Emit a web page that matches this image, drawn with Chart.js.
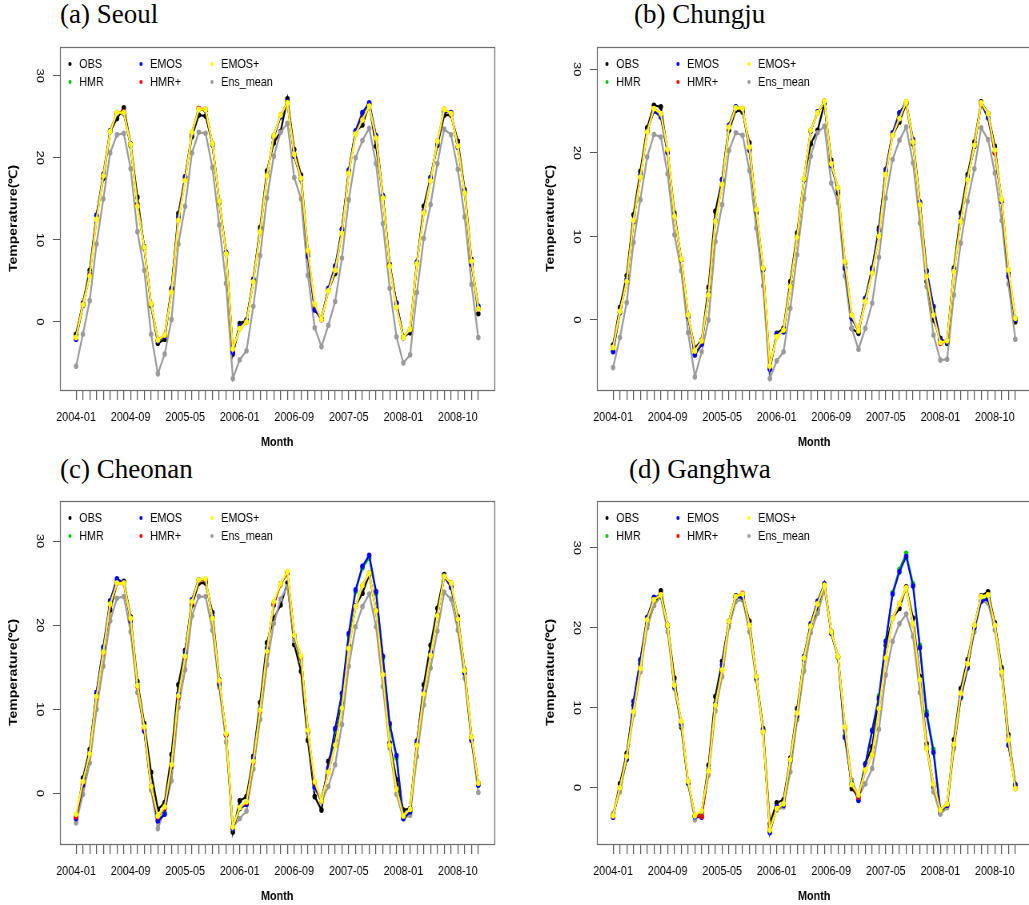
<!DOCTYPE html>
<html>
<head>
<meta charset="utf-8">
<script src="https://cdn.jsdelivr.net/npm/chart.js@4.4.1/dist/chart.umd.min.js"></script>
<style>
html,body{margin:0;padding:0;width:1029px;height:905px;overflow:hidden;background:#fff;}
.panel{position:absolute;width:644px;height:450px;transform:scale(0.8,1);transform-origin:0 0;}
.title{position:absolute;font-family:"Liberation Serif","Times New Roman",serif;font-size:27px;line-height:27px;color:#000;white-space:nowrap;}
</style>
</head>
<body>
<div id="root"></div>
<script>
// ---------------- DATA ----------------
const months = ["2004-01","2004-02","2004-03","2004-04","2004-05","2004-06","2004-07","2004-08","2004-09","2004-10","2004-11","2004-12",
"2005-01","2005-02","2005-03","2005-04","2005-05","2005-06","2005-07","2005-08","2005-09","2005-10","2005-11","2005-12",
"2006-01","2006-02","2006-03","2006-04","2006-05","2006-06","2006-07","2006-08","2006-09","2006-10","2006-11","2006-12",
"2007-01","2007-02","2007-03","2007-04","2007-05","2007-06","2007-07","2007-08","2007-09","2007-10","2007-11","2007-12",
"2008-01","2008-02","2008-03","2008-04","2008-05","2008-06","2008-07","2008-08","2008-09","2008-10","2008-11","2008-12"];
const xTickLabels = ["2004-01","2004-09","2005-05","2006-01","2006-09","2007-05","2008-01","2008-10"];
const xTickIndex = [0,8,16,24,32,40,48,56];
const yTicks = [0,10,20,30];
const seriesNames = ["OBS","HMR","EMOS","HMR+","EMOS+","Ens_mean"];
const seriesColors = ["#000000","#00C800","#0000FF","#FF0000","#FFFF00","#9A9A9A"];
// stacking: larger = drawn later (on top)
const drawRank = [0,2,3,4,5,1];
const panelTitles = ["(a) Seoul","(b) Chungju","(c) Cheonan","(d) Ganghwa"];

// (a) Seoul
const seoulOBS  = [-1.5,2.3,6.3,13.0,17.5,23.2,24.8,26.1,21.7,15.2, 9.0,2.0,-2.6,-2.1,4.0,13.2,17.7,22.6,25.2,25.1, 21.7,14.6,8.4,-3.9,-0.2,0.2,5.1,11.5,18.4,21.8, 23.2,27.2,21.0,17.9,8.6,1.5,0.3,3.9,5.9,11.3, 18.3,23.2,24.0,26.5,21.4,15.3,7.0,2.3,-1.8,-1.3, 7.2,14.1,17.6,21.5,25.2,25.2,22.0,16.1,7.6,1.0];
const seoulHMR  = [-2.0,2.1,5.9,12.9,17.9,23.3,25.4,25.5,21.5,14.4, 9.2,2.1,-2.3,-1.7,4.0,12.8,17.6,23.0,25.9,25.8, 21.6,14.6,8.5,-3.6,-0.6,0.2,5.2,11.2,17.9,22.6, 25.1,26.8,20.3,17.4,8.2,1.6,0.4,4.0,6.7,11.2, 18.4,23.2,25.4,26.6,22.6,15.3,7.0,2.2,-1.9,-1.0, 7.3,13.4,17.5,21.8,25.7,25.5,21.3,15.9,7.1,1.9];
const seoulEMOS = [-2.1,2.0,5.8,13.0,18.0,23.3,25.4,25.4,21.5,14.3, 9.2,2.1,-2.3,-1.7,4.1,12.8,17.7,23.0,26.0,25.8, 21.6,14.7,8.5,-3.7,-0.6,0.2,5.2,11.2,17.9,22.5, 25.0,26.8,20.2,17.4,8.0,1.5,0.4,4.1,6.8,11.3, 18.5,23.3,25.5,26.7,22.7,15.4,7.0,2.3,-1.9,-1.0, 7.3,13.5,17.6,21.8,25.6,25.5,21.3,15.9,7.0,1.9];
const seoulHMRp = [-1.9,2.1,5.7,12.5,17.8,23.2,25.5,25.6,21.6,14.2, 9.1,2.2,-2.2,-1.6,3.7,12.4,17.3,23.1,26.0,25.9, 21.7,14.7,8.3,-3.3,-0.8,0.0,4.9,11.0,17.8,22.7, 25.2,26.7,20.4,17.5,8.6,2.1,0.3,3.8,6.3,10.8, 18.1,22.9,24.7,26.3,22.4,15.1,6.9,1.8,-1.9,-0.9, 7.1,13.3,17.2,22.0,25.9,25.4,21.4,15.7,7.4,1.6];
const seoulEMOSp= [-1.9,2.1,5.6,12.5,17.8,23.2,25.5,25.5,21.6,14.1, 9.1,2.2,-2.2,-1.6,3.6,12.4,17.2,23.1,25.9,25.9, 21.7,14.7,8.3,-3.3,-0.8,0.0,4.9,11.0,17.8,22.7, 25.2,26.7,20.4,17.5,8.7,2.2,0.3,3.8,6.3,10.8, 18.1,22.9,24.6,26.3,22.4,15.1,6.8,1.8,-1.9,-0.9, 7.1,13.3,17.2,22.0,25.9,25.4,21.4,15.7,7.4,1.6];
const seoulEns  = [-5.4,-1.5,2.6,9.5,15.0,20.6,22.8,23.0,18.7,11.0, 6.3,-1.5,-6.3,-3.9,0.3,9.5,14.1,20.6,23.1,23.0, 18.8,11.8,4.7,-6.9,-4.6,-3.5,1.9,8.1,15.1,20.2, 23.1,24.2,17.6,15.0,5.7,-0.7,-3.0,-0.4,2.5,7.8, 14.9,20.0,22.1,23.6,19.3,12.0,4.1,-1.8,-5.0,-4.0, 3.6,10.2,14.3,19.3,23.5,22.8,18.6,12.8,4.6,-1.9];

// (b) Chungju
const chungjuOBS  = [-3.0,1.5,5.3,12.6,17.8,23.0,25.7,25.5,20.1,12.8, 7.2,0.4,-3.4,-2.4,3.9,13.0,16.8,22.7,25.1,24.9, 21.2,12.8,6.0,-5.8,-1.6,-1.0,4.6,10.4,16.8,21.1, 22.7,25.9,19.1,15.2,6.8,-1.0,-1.6,2.6,6.2,11.0, 17.9,22.1,23.7,25.9,21.1,14.0,4.6,0.0,-2.2,-2.8, 6.2,12.8,17.4,21.3,26.1,24.7,20.8,14.2,5.6,-0.2];
const chungjuHMR  = [-3.7,0.9,4.8,11.8,17.3,22.6,25.1,24.4,20.1,12.5, 7.2,0.5,-4.1,-2.8,3.2,11.9,16.7,23.3,25.5,25.2, 20.4,13.0,6.0,-5.8,-1.7,-1.4,4.1,10.0,16.8,22.6, 24.9,26.0,18.6,15.6,6.3,0.3,-1.3,2.5,5.9,10.7, 17.9,22.3,24.7,26.0,21.5,14.0,5.8,1.5,-2.5,-2.6, 6.0,12.0,17.0,20.8,25.9,24.3,20.1,14.2,5.3,0.1];
const chungjuEMOS = [-3.8,0.9,4.8,11.8,17.4,22.6,25.0,24.3,20.0,12.5, 7.2,0.4,-4.2,-2.9,3.2,11.9,16.8,23.3,25.5,25.2, 20.3,13.0,6.0,-5.9,-1.7,-1.4,4.1,10.0,16.8,22.6, 24.9,26.0,18.5,15.6,6.2,0.2,-1.3,2.6,6.0,10.8, 18.0,22.4,24.8,26.0,21.6,14.1,5.9,1.6,-2.4,-2.6, 6.0,12.0,17.0,20.8,25.9,24.2,20.0,14.2,5.2,0.1];
const chungjuHMRp = [-3.3,1.0,4.6,11.9,17.1,22.5,25.3,24.7,20.3,12.4, 7.3,0.6,-3.7,-2.5,3.0,11.8,16.2,23.1,25.4,25.3, 20.6,13.2,6.2,-5.5,-2.0,-1.2,4.0,9.9,16.9,22.7, 24.8,26.2,18.7,15.8,7.0,0.6,-1.3,2.2,5.6,10.0, 17.4,22.1,24.1,26.1,21.3,13.8,5.2,0.6,-2.8,-2.5, 5.8,11.8,16.8,20.9,26.0,24.7,20.0,14.4,6.0,0.2];
const chungjuEMOSp= [-3.3,1.0,4.6,11.9,17.1,22.5,25.3,24.7,20.4,12.4, 7.3,0.6,-3.7,-2.5,3.0,11.8,16.2,23.1,25.4,25.3, 20.7,13.2,6.2,-5.5,-2.0,-1.2,4.0,9.9,16.9,22.7, 24.8,26.2,18.7,15.8,7.0,0.6,-1.3,2.2,5.6,10.0, 17.4,22.1,24.1,26.1,21.3,13.8,5.2,0.6,-2.7,-2.5, 5.8,11.8,16.8,20.9,26.0,24.7,20.3,14.4,6.0,0.2];
const chungjuEns  = [-5.7,-2.1,2.1,9.3,14.4,19.5,22.2,21.9,17.5,10.2, 5.9,-1.5,-6.8,-3.8,0.0,9.4,13.8,20.3,22.4,22.1, 17.9,11.0,4.1,-7.0,-4.9,-3.8,1.4,7.8,14.5,19.6, 22.4,23.2,16.4,14.0,5.3,-1.0,-3.5,-1.0,2.0,7.5, 14.6,19.2,21.5,23.1,18.8,11.6,4.0,-1.8,-4.8,-4.7, 3.0,9.2,14.2,18.1,23.0,21.6,17.6,11.9,4.3,-2.3];

// (c) Cheonan
const cheonanOBS  = [-3.0,1.8,5.2,11.9,17.0,21.8,25.0,25.2,21.0,13.3, 8.3,2.5,-1.9,-1.1,4.6,12.9,17.0,22.4,25.0,25.0, 21.5,13.5,6.9,-4.6,-0.9,-0.4,4.4,10.8,17.9,20.8, 22.4,25.0,17.7,14.5,6.3,-0.4,-2.0,3.8,6.3,10.7, 17.6,22.3,23.8,26.0,21.8,14.5,6.0,1.6,-2.0,-1.8, 5.9,12.9,17.6,22.0,26.0,24.6,21.0,14.7,6.7,1.2];
const cheonanHMR  = [-2.9,1.0,4.8,11.9,17.3,22.8,25.4,25.0,20.6,12.8, 7.5,0.8,-3.2,-2.4,3.2,11.8,16.7,23.0,25.4,25.3, 21.0,13.0,7.0,-4.2,-1.8,-1.3,4.1,10.0,17.1,22.4, 24.9,26.2,18.7,16.2,7.4,0.8,-0.8,2.9,7.5,11.6, 18.8,24.0,26.8,28.0,23.8,16.1,8.0,4.2,-3.0,-2.2, 6.1,12.1,16.8,21.2,25.8,24.6,20.6,14.3,6.4,1.0];
const cheonanEMOS = [-3.0,1.0,4.8,12.0,17.4,22.9,25.5,25.0,20.5,12.8, 7.4,0.8,-3.3,-2.5,3.2,11.8,16.8,23.0,25.4,25.3, 21.0,13.0,7.0,-4.2,-1.8,-1.3,4.2,10.0,17.2,22.4, 24.9,26.2,18.7,16.2,7.4,0.7,-0.8,3.0,7.7,11.9, 19.0,24.2,27.0,28.3,24.0,16.3,8.3,4.5,-3.0,-2.2, 6.2,12.2,16.8,21.2,25.8,24.5,20.6,14.3,6.3,1.0];
const cheonanHMRp = [-2.8,1.3,4.7,11.4,16.7,22.4,25.0,25.0,20.7,12.7, 7.8,0.8,-2.8,-1.7,3.3,11.4,16.2,22.7,25.3,25.4, 20.8,13.3,7.0,-4.0,-1.7,-1.1,3.7,9.8,16.8,22.6, 24.8,26.3,18.8,16.2,7.5,1.3,-0.9,2.5,5.7,10.1, 17.2,22.2,24.7,26.2,21.7,14.1,5.7,0.6,-2.7,-1.9, 5.7,11.8,16.4,21.1,25.8,25.0,20.7,14.6,6.7,1.2];
const cheonanEMOSp= [-2.5,1.4,4.7,11.5,16.8,22.5,25.0,25.0,20.8,12.8, 7.9,0.8,-2.7,-1.6,3.4,11.6,16.3,22.8,25.4,25.5, 20.8,13.4,7.1,-4.0,-1.7,-1.0,3.8,9.9,16.9,22.8, 24.9,26.4,18.8,16.3,7.5,1.4,-0.9,2.5,5.7,10.1, 17.2,22.2,24.7,26.2,21.7,14.1,5.7,0.5,-2.7,-1.9, 5.7,11.8,16.4,21.1,25.8,25.0,20.7,14.6,6.7,1.2];
const cheonanEns  = [-3.5,-0.1,3.6,10.0,15.1,20.5,23.2,23.4,19.2,12.0, 7.7,0.4,-4.2,-1.9,1.5,10.2,14.7,21.1,23.4,23.4, 19.4,12.6,6.1,-4.0,-3.0,-2.1,2.9,8.8,15.3,20.2, 23.1,24.6,18.2,15.7,7.1,0.6,-1.0,0.8,3.4,8.2, 15.1,19.8,22.2,23.7,19.8,12.7,5.4,-0.1,-3.0,-2.6, 4.4,10.5,14.9,19.3,23.9,23.1,19.4,13.7,6.3,0.1];

// (d) Ganghwa
const ganghwaOBS  = [-3.5,0.5,4.3,10.3,15.5,20.4,22.8,24.6,20.3,13.7, 7.6,0.6,-3.5,-3.1,2.8,11.4,15.8,20.8,24.0,24.0, 20.8,13.9,7.4,-4.5,-1.9,-1.5,3.7,9.9,16.0,20.4, 22.2,25.5,19.5,16.4,7.4,-0.1,-1.1,3.0,5.1,11.0, 17.8,21.2,22.4,25.1,21.2,13.9,5.5,0.1,-3.2,-2.2, 6.0,12.4,16.0,20.2,24.0,24.5,20.6,15.0,6.6,0.3];
const ganghwaHMR  = [-3.6,0.0,3.6,10.7,15.9,21.2,23.7,24.0,20.2,12.6, 8.0,0.6,-3.6,-3.6,2.2,10.5,15.3,20.7,23.8,23.8, 20.4,13.7,7.2,-5.5,-2.4,-2.2,3.4,9.0,16.4,20.5, 23.3,25.4,19.3,16.3,6.4,0.6,-1.5,2.9,7.2,11.5, 18.3,24.4,27.3,29.3,25.5,17.8,9.5,4.8,-2.8,-2.2, 5.3,11.3,15.0,20.0,23.4,23.7,20.4,14.7,5.4,0.4];
const ganghwaEMOS = [-3.7,0.0,3.6,10.8,16.0,21.3,23.8,24.0,20.2,12.6, 8.0,0.6,-3.6,-3.7,2.2,10.5,15.4,20.7,23.8,23.8, 20.4,13.7,7.2,-5.6,-2.4,-2.2,3.4,9.0,16.4,20.5, 23.3,25.4,19.3,16.3,6.3,0.5,-1.6,2.9,7.1,11.2, 18.3,24.2,27.0,28.9,25.2,17.5,9.1,4.4,-2.8,-2.2, 5.3,11.3,15.0,20.0,23.3,23.6,20.4,14.7,5.3,0.4];
const ganghwaHMRp = [-3.5,0.0,3.9,9.5,14.9,21.0,23.5,24.1,20.3,12.8, 8.3,0.8,-3.5,-3.6,2.1,10.3,14.7,20.8,23.9,24.3, 20.3,13.9,7.0,-5.2,-2.6,-2.0,3.5,9.3,16.2,20.2, 23.0,25.3,19.5,16.4,7.6,0.4,-1.2,2.2,4.1,9.9, 16.2,21.2,23.0,25.0,20.5,13.5,4.9,0.5,-2.8,-2.0, 5.4,11.8,15.5,20.3,23.9,24.1,20.3,14.5,6.0,-0.1];
const ganghwaEMOSp= [-3.5,0.0,3.9,9.5,14.9,21.0,23.5,24.1,20.3,12.8, 8.3,0.8,-3.5,-2.9,2.1,10.3,14.7,20.8,23.9,24.2, 20.3,13.9,7.0,-5.3,-2.6,-2.0,3.5,9.3,16.2,20.2, 23.0,25.3,19.5,16.4,7.6,0.4,-0.9,2.2,4.1,9.9, 16.2,21.2,23.0,25.0,20.5,13.5,4.9,0.5,-2.8,-2.0, 5.4,11.8,15.5,20.3,23.9,24.1,20.3,14.5,6.0,-0.1];
const ganghwaEns  = [-3.2,-0.5,3.5,9.1,14.5,20.0,22.8,23.9,19.5,12.4, 7.8,0.5,-4.0,-3.4,1.6,9.6,13.9,20.1,23.3,23.5, 19.5,13.5,6.9,-4.8,-2.8,-2.4,2.0,8.5,14.6,19.4, 21.8,24.8,19.4,16.4,7.2,1.0,-1.1,0.5,2.4,7.3, 14.1,18.3,20.5,21.7,18.9,11.9,5.1,-0.5,-3.3,-2.5, 4.9,11.2,15.2,19.5,23.3,23.1,19.7,14.1,6.3,0.3];

const yMins = [-8.29,-8.38,-6.03,-7.04];
const yMaxs = [33.5,32.67,34.76,35.84];

// ---------------- LAYOUT ----------------
// Canvases are drawn 644 px wide and compressed horizontally to 515 px (0.8)
const SX = 0.8;
const panels = [
  {series:[seoulOBS,seoulHMR,seoulEMOS,seoulHMRp,seoulEMOSp,seoulEns], left:0, top:0, titleLeft:60, titleTop:1},
  {series:[chungjuOBS,chungjuHMR,chungjuEMOS,chungjuHMRp,chungjuEMOSp,chungjuEns], left:537, top:0, titleLeft:634, titleTop:1},
  {series:[cheonanOBS,cheonanHMR,cheonanEMOS,cheonanHMRp,cheonanEMOSp,cheonanEns], left:0, top:454, titleLeft:60, titleTop:456},
  {series:[ganghwaOBS,ganghwaHMR,ganghwaEMOS,ganghwaHMRp,ganghwaEMOSp,ganghwaEns], left:537, top:454, titleLeft:629, titleTop:456}
];

const SANS = '"Liberation Sans",Arial,sans-serif';

const boxPlugin = {
  id: 'rbox',
  beforeDatasetsDraw(chart) {
    const a = chart.chartArea, ctx = chart.ctx;
    ctx.save();
    ctx.strokeStyle = '#6e6e6e';
    ctx.lineWidth = 1.25;
    ctx.strokeRect(Math.round(a.left) + 0.5, Math.round(a.top) + 0.5, Math.round(a.right - a.left), Math.round(a.bottom - a.top));
    ctx.restore();
  }
};

const legendPlugin = {
  id: 'rlegend',
  afterDraw(chart) {
    const a = chart.chartArea, ctx = chart.ctx;
    // column-major order: OBS,HMR | EMOS,HMR+ | EMOS+,Ens_mean
    const colX = [10 / SX, 81 / SX, 152 / SX];
    const rowY = [17, 35];
    ctx.save();
    ctx.font = '13.5px ' + SANS;
    ctx.textBaseline = 'middle';
    ctx.textAlign = 'left';
    seriesNames.forEach((name, i) => {
      const c = Math.floor(i / 2), r = i % 2;
      const x = a.left + colX[c], y = a.top + rowY[r];
      ctx.fillStyle = seriesColors[i];
      ctx.beginPath();
      ctx.arc(x, y, 2.0, 0, Math.PI * 2);
      ctx.fill();
      ctx.fillStyle = '#000';
      ctx.fillText(name, x + 11.5, y + 0.5);
    });
    ctx.restore();
  }
};

const root = document.getElementById('root');
panels.forEach((p, pi) => {
  const t = document.createElement('div');
  t.className = 'title';
  t.style.left = p.titleLeft + 'px';
  t.style.top = p.titleTop + 'px';
  t.textContent = panelTitles[pi];
  root.appendChild(t);

  const div = document.createElement('div');
  div.className = 'panel';
  div.style.left = p.left + 'px';
  div.style.top = p.top + 'px';
  const cv = document.createElement('canvas');
  cv.width = 644; cv.height = 450;
  div.appendChild(cv);
  root.appendChild(div);

  const datasets = seriesNames.map((name, i) => ({
    label: name,
    data: p.series[i].map((v, k) => ({x: k, y: v})),
    borderColor: seriesColors[i],
    backgroundColor: seriesColors[i],
    pointBackgroundColor: seriesColors[i],
    pointBorderColor: seriesColors[i],
    pointBorderWidth: 0,
    pointRadius: 2.8,
    borderWidth: 2.2,
    tension: 0,
    order: 10 - drawRank[i]
  }));

  new Chart(cv, {
    type: 'line',
    data: {datasets},
    options: {
      responsive: false,
      animation: false,
      devicePixelRatio: 1,
      layout: {padding: {top: 47, right: 26, left: 0, bottom: 0}},
      plugins: {legend: {display: false}, tooltip: {enabled: false}},
      scales: {
        x: {
          type: 'linear',
          min: -2.36, max: 61.36,
          afterBuildTicks: s => { s.ticks = months.map((m, i) => ({value: i})); },
          afterFit: s => { s.height = 60; },
          grid: {display: true, drawOnChartArea: false, drawTicks: true, tickLength: 10, color: '#555', lineWidth: 1.2},
          border: {display: false},
          ticks: {
            autoSkip: false, maxRotation: 0, minRotation: 0, padding: 9, color: '#000',
            font: {family: SANS, size: 13.5},
            callback: v => { const k = xTickIndex.indexOf(v); return k >= 0 ? xTickLabels[k] : ''; }
          },
          title: {display: true, text: 'Month', color: '#000', font: {family: SANS, size: 13.5, weight: 'bold'}, padding: {top: 0, bottom: 0}}
        },
        y: {
          type: 'linear',
          min: yMins[pi], max: yMaxs[pi],
          afterBuildTicks: s => { s.ticks = yTicks.map(v => ({value: v})); },
          afterFit: s => { s.width = 75; },
          grid: {display: true, drawOnChartArea: false, drawTicks: true, tickLength: 9, color: '#555', lineWidth: 1},
          border: {display: false},
          ticks: {
            minRotation: -90, maxRotation: -90, crossAlign: 'center', padding: 9, color: '#000',
            font: {family: SANS, size: 13}
          },
          title: {display: true, text: 'Temperature(℃)', color: '#000', font: {family: SANS, size: 14, weight: 'bold'}, padding: {top: 9, bottom: 0}}
        }
      }
    },
    plugins: [boxPlugin, legendPlugin]
  });
});
</script>
</body>
</html>
